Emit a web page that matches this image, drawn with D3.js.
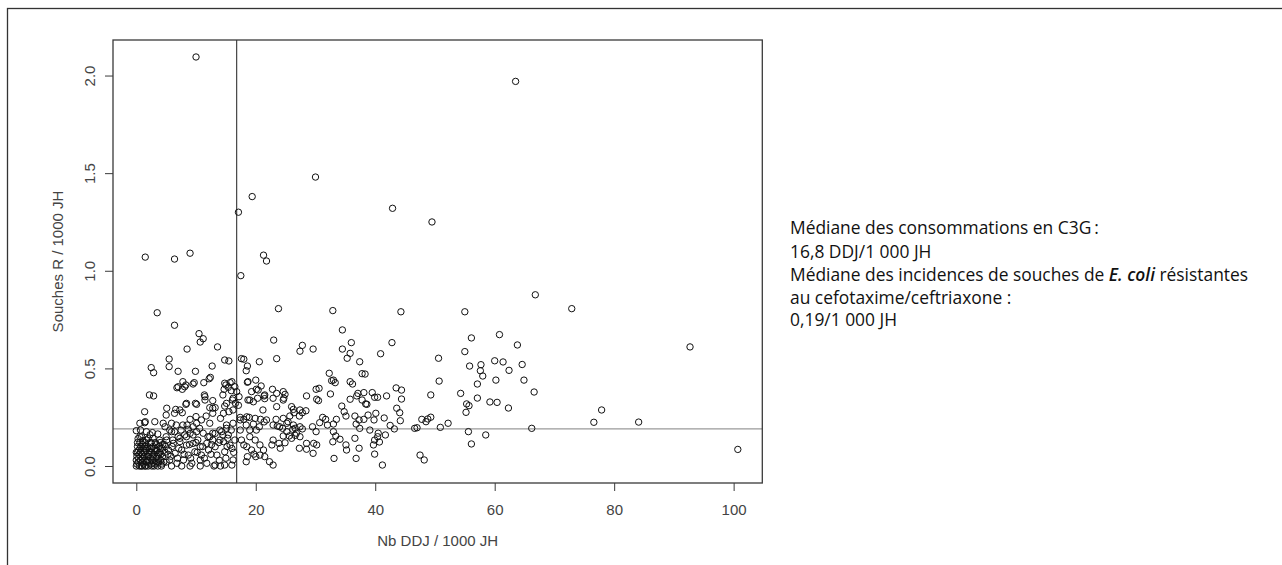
<!DOCTYPE html>
<html>
<head>
<meta charset="utf-8">
<script src="https://cdn.jsdelivr.net/npm/d3@7/dist/d3.min.js"></script>
<style>
  html, body { margin: 0; padding: 0; background: #fff; }
  svg { display: block; }
</style>
</head>
<body>
<svg id="chart" width="1282" height="565"></svg>
<script>
// Consommation de C3G (DDJ / 1000 JH) par établissement
const ddj = [
  10.0, 63.5, 30.0, 19.4, 17.1, 42.9, 49.5, 1.5, 6.4, 9.0, 21.3, 21.8, 17.5, 3.5, 23.8, 32.9, 44.3, 55.0, 66.8, 72.9, 92.7, 100.7,
  77.9, 76.6, 84.1, 66.6, 66.2, 62.3, 59.2, 60.4, 57.1, 57.1, 54.3, 55.3, 55.7, 55.2, 55.6, 56.1, 58.5, 50.9, 52.2, 49.3, 49.3, 48.5,
  47.8, 48.8, 48.2, 47.5, 50.7, 60.2, 64.9, 60.8, 56.1, 42.8, 40.9, 55.0, 50.6, 55.8, 57.7, 57.6, 58.0, 60.0, 61.4, 43.5, 44.4, 44.4,
  41.9, 40.4, 39.9, 39.5, 38.3, 38.6, 43.6, 44.1, 44.2, 40.1, 38.8, 41.5, 39.8, 42.5, 43.2, 39.1, 40.5, 41.7, 40.4, 39.9, 40.7, 39.7,
  39.9, 41.2, 46.6, 47.0, 63.8, 64.6, 62.4,
  34.5, 23.0, 27.8, 27.4, 29.6, 36.0, 34.5, 35.8, 35.3, 37.4, 37.8, 18.0, 20.6, 23.5, 18.6, 18.4, 32.3, 33.0, 33.3, 35.8, 36.2, 18.6,
  20.0, 20.9, 20.1, 22.8, 24.6, 23.5, 24.7, 19.3, 19.0, 19.6, 21.4, 20.3, 21.5, 22.9, 24.6, 28.5, 30.1, 30.6, 30.2, 30.5, 32.7, 32.5,
  35.8, 37.1, 38.1, 36.9, 37.8, 38.4, 34.4, 34.8, 35.1, 36.6, 37.3, 36.8, 38.1, 37.4, 21.2, 17.4, 18.0, 18.9, 19.9, 20.8, 21.4, 18.4,
  19.6, 20.6, 19.0, 20.1, 23.4, 24.6, 25.7, 26.3, 25.4, 26.3, 27.3, 27.8, 28.4, 23.6, 24.5, 25.2, 26.2, 25.6, 26.8, 27.4, 27.8, 24.6,
  26.0, 26.6, 31.2, 31.7, 30.7, 32.0, 33.0, 33.5, 33.0, 33.4, 34.1, 32.9, 29.5, 30.1, 29.7, 30.2, 28.5, 27.3, 28.5, 29.6, 27.4, 35.1,
  36.6, 37.3, 36.8, 35.2, 33.1, 17.4, 17.6, 18.0, 18.5, 19.3, 19.7, 18.6, 20.0, 20.7, 18.4, 21.5, 22.3, 22.9, 21.3, 20.7, 19.9, 19.0,
  22.9, 23.9, 22.7, 24.1, 24.9, 17.2, 18.7, 20.4, 21.5, 18.7, 17.1, 23.5, 26.0, 26.4, 27.4, 24.9, 21.8, 22.9, 24.0, 25.2, 26.6, 17.4,
  18.5,
  6.4, 10.5, 11.2, 10.7, 8.5, 13.6, 5.5, 5.5, 2.5, 2.9, 7.0, 9.9, 12.7, 14.8, 15.5, 17.6, 7.8, 7.0, 8.1, 9.5, 11.3, 12.4, 2.2, 2.9,
  11.4, 12.8, 14.5, 15.0, 15.7, 16.5, 15.9, 16.2, 16.6, 15.1, 8.4, 9.9, 6.6, 5.1, 7.7, 1.4, 5.0, 6.4, 9.0, 10.0, 10.9, 11.7, 12.8,
  14.1, 12.8, 1.4, 3.1, 4.5, 0.0, 5.9, 6.7, 7.8, 5.6, 6.4, 7.5, 8.7, 9.5, 10.6, 0.7, 1.7, 2.7, 3.6, 2.8, 3.9, 1.7, 0.6, 5.0, 6.1,
  7.3, 8.4, 9.5, 10.3, 11.2, 12.0, 12.8, 14.0, 15.1, 15.9, 14.5, 15.3, 14.0, 12.8, 8.3, 6.8, 7.7, 9.7, 12.2, 14.8, 15.4, 16.0, 14.7,
  16.8, 16.1, 7.3, 8.3, 10.1, 11.5, 11.5, 12.3, 13.2, 14.8, 15.5, 14.6, 16.2, 1.5, 4.8, 8.5, 10.1, 12.3, 15.1, 16.2, 0.6,
  5.9, 7.0, 8.1, 9.0, 10.1, 12.3, 13.2, 14.3, 15.4, 5.1, 6.2, 7.3, 8.4, 9.5, 10.7, 11.8, 13.2, 14.6, 15.7, 16.5, 5.4, 6.5, 7.6, 8.7,
  9.8, 10.9, 12.1, 13.5, 14.8, 16.0, 5.6, 6.8, 7.9, 9.3, 10.7, 11.8, 13.2, 14.8, 16.2, 5.9, 7.6, 9.0, 10.7, 13.0, 14.1, 16.0,
  0.0, 0.3, 0.1, 0.4, 0.2, 0.8, 0.7, 0.9, 0.6, 1.2, 1.1, 1.3, 1.0, 1.6, 1.5, 1.8, 1.7, 1.9, 2.2, 2.1, 2.4, 2.3, 2.6, 2.7, 2.9, 2.8,
  3.1, 3.3, 3.2, 3.6, 3.5, 3.7, 3.9, 4.2, 4.1, 4.4, 4.3, 0.5, 0.2, 1.4, 2.0, 3.0, 0.6, 1.5, 2.5, 3.4, 4.0, 0.3, 2.0, 1.0, 2.5, 1.2,
  0.0, 0.0, 3.8, 4.6, 4.8, 4.7, 0.9, 2.3, 5.0, 5.3, 4.9,
  0.1, 0.4, 0.7, 1.0, 1.3, 1.6, 1.9, 2.2, 2.5, 2.8, 3.1, 3.4, 3.7, 4.0, 4.3, 0.5, 0.8, 1.1, 1.4, 1.7, 2.0, 2.3, 2.6, 2.9, 3.2, 3.5,
  3.8, 4.1, 4.4, 0.2,
  5.8, 6.9, 8.0, 9.1, 10.2, 11.4, 12.5, 13.9, 15.0, 6.0, 7.1, 8.9, 10.0, 11.1, 12.6, 13.8, 15.2, 16.3
];

// Incidence des souches R (pour 1000 JH), même ordre que ddj
const souchesR = [
  2.095, 1.97, 1.48, 1.38, 1.30, 1.32, 1.25, 1.07, 1.06, 1.09, 1.08, 1.05, 0.975, 0.785, 0.806, 0.796, 0.79, 0.79, 0.877, 0.806, 0.61, 0.085,
  0.287, 0.224, 0.225, 0.379, 0.193, 0.297, 0.328, 0.326, 0.348, 0.42, 0.372, 0.318, 0.309, 0.275, 0.176, 0.113, 0.159, 0.198, 0.219, 0.364, 0.25, 0.227,
  0.239, 0.241, 0.031, 0.056, 0.435, 0.44, 0.44, 0.673, 0.656, 0.632, 0.575, 0.586, 0.552, 0.512, 0.519, 0.488, 0.461, 0.539, 0.533, 0.40, 0.389, 0.343,
  0.359, 0.352, 0.352, 0.376, 0.471, 0.316, 0.296, 0.273, 0.232, 0.27, 0.261, 0.246, 0.236, 0.208, 0.19, 0.184, 0.168, 0.159, 0.15, 0.133, 0.123, 0.108,
  0.061, 0.005, 0.193, 0.196, 0.62, 0.52, 0.49,
  0.697, 0.645, 0.618, 0.588, 0.599, 0.632, 0.599, 0.577, 0.552, 0.534, 0.473, 0.547, 0.534, 0.55, 0.512, 0.488, 0.475, 0.44, 0.427, 0.432, 0.42, 0.429,
  0.44, 0.41, 0.393, 0.393, 0.381, 0.372, 0.347, 0.381, 0.338, 0.329, 0.359, 0.347, 0.364, 0.347, 0.338, 0.359, 0.393, 0.398, 0.342, 0.335, 0.437, 0.369,
  0.342, 0.372, 0.376, 0.359, 0.338, 0.318, 0.307, 0.278, 0.256, 0.256, 0.236, 0.215, 0.239, 0.193, 0.287, 0.249, 0.239, 0.249, 0.244, 0.239, 0.226, 0.21,
  0.215, 0.201, 0.184, 0.184, 0.239, 0.244, 0.256, 0.29, 0.227, 0.21, 0.256, 0.273, 0.283, 0.205, 0.193, 0.176, 0.188, 0.154, 0.168, 0.201, 0.19, 0.154,
  0.142, 0.157, 0.249, 0.239, 0.222, 0.21, 0.215, 0.239, 0.176, 0.154, 0.137, 0.124, 0.201, 0.176, 0.116, 0.108, 0.116, 0.091, 0.086, 0.065, 0.15, 0.108,
  0.142, 0.091, 0.039, 0.082, 0.039, 0.184, 0.133, 0.108, 0.099, 0.082, 0.061, 0.048, 0.048, 0.056, 0.022, 0.048, 0.022, 0.005, 0.082, 0.108, 0.133, 0.15,
  0.133, 0.116, 0.108, 0.091, 0.119, 0.355, 0.432, 0.389, 0.345, 0.338, 0.311, 0.304, 0.304, 0.273, 0.287, 0.367, 0.236, 0.21, 0.201, 0.219, 0.193, 0.236,
  0.252,
  0.721, 0.678, 0.652, 0.635, 0.599, 0.61, 0.548, 0.509, 0.504, 0.478, 0.485, 0.485, 0.512, 0.543, 0.538, 0.55, 0.432, 0.406, 0.406, 0.42, 0.427, 0.454, 0.364, 0.359,
  0.364, 0.335, 0.364, 0.415, 0.427, 0.406, 0.386, 0.347, 0.321, 0.321, 0.321, 0.321, 0.29, 0.296, 0.273, 0.278, 0.261, 0.27, 0.239, 0.253, 0.236, 0.256, 0.27,
  0.244, 0.296, 0.222, 0.227, 0.219, 0.181, 0.219, 0.21, 0.21, 0.184, 0.176, 0.184, 0.188, 0.201, 0.193, 0.184, 0.176, 0.171, 0.164, 0.142, 0.133, 0.133, 0.15, 0.15, 0.133,
  0.142, 0.15, 0.159, 0.133, 0.168, 0.15, 0.168, 0.184, 0.193, 0.184, 0.159, 0.142, 0.133, 0.133, 0.415, 0.401, 0.393, 0.427, 0.447, 0.424, 0.403, 0.432, 0.393,
  0.381, 0.338, 0.287, 0.316, 0.316, 0.355, 0.338, 0.299, 0.299, 0.307, 0.278, 0.27, 0.287, 0.227, 0.201, 0.21, 0.219, 0.219, 0.21, 0.219, 0.219,
  0.176, 0.15, 0.159, 0.167, 0.176, 0.15, 0.167, 0.176, 0.159, 0.133, 0.116, 0.125, 0.107, 0.116, 0.099, 0.116, 0.099, 0.125, 0.107, 0.133, 0.082, 0.065, 0.082, 0.056,
  0.073, 0.056, 0.082, 0.056, 0.073, 0.09, 0.031, 0.014, 0.031, 0.014, 0.031, 0.014, 0.005, 0.005, 0.031, 0.0, 0.0, 0.0, 0.0, 0.0, 0.0, 0.005,
  0.0, 0.02, 0.05, 0.08, 0.1, 0.0, 0.03, 0.06, 0.09, 0.01, 0.04, 0.07, 0.11, 0.0, 0.03, 0.05, 0.08, 0.1, 0.02, 0.06, 0.04, 0.09, 0.0, 0.03, 0.06, 0.1,
  0.01, 0.04, 0.08, 0.0, 0.05, 0.02, 0.07, 0.0, 0.03, 0.05, 0.09, 0.0, 0.07, 0.0, 0.0, 0.0, 0.12, 0.12, 0.12, 0.11, 0.12, 0.14, 0.14, 0.0, 0.07, 0.09,
  0.03, 0.07, 0.1, 0.02, 0.07, 0.11, 0.15, 0.16, 0.02, 0.06, 0.1,
  0.01, 0.04, 0.07, 0.02, 0.05, 0.09, 0.03, 0.07, 0.01, 0.05, 0.09, 0.02, 0.06, 0.09, 0.01, 0.06, 0.1, 0.13, 0.1, 0.02, 0.05, 0.12, 0.09, 0.02, 0.12, 0.08,
  0.04, 0.06, 0.11, 0.12,
  0.05, 0.04, 0.06, 0.04, 0.07, 0.04, 0.06, 0.03, 0.04, 0.1, 0.09, 0.11, 0.12, 0.1, 0.11, 0.12, 0.1, 0.07
];

const medianDDJ = 16.8;
const medianR = 0.19;

const xTicks = [0, 20, 40, 60, 80, 100];
const yTicks = [0, 0.5, 1, 1.5, 2];
const yTickLabels = ["0.0", "0.5", "1.0", "1.5", "2.0"];

const xTitle = "Nb DDJ / 1000 JH";
const yTitle = "Souches R / 1000 JH";

const noteLines = [
  [{ t: "Médiane des consommations en C3G\u2009:" }],
  [{ t: "16,8 DDJ/1 000 JH" }],
  [{ t: "Médiane des incidences de souches de " }, { t: "E. coli", it: true }, { t: " résistantes" }],
  [{ t: "au cefotaxime/ceftriaxone :" }],
  [{ t: "0,19/1 000 JH" }]
];

const points = ddj.map((d, i) => ({ x: d, y: souchesR[i] }));

const svg = d3.select("#chart");
const plot = { left: 113, right: 762.3, top: 40, bottom: 483 };

const x = d3.scaleLinear().domain([-3.9, 104.8]).range([plot.left, plot.right]);
const y = d3.scaleLinear().domain([-0.087, 2.182]).range([plot.bottom, plot.top]);

const axisFont = "'Liberation Sans', Arial, sans-serif";
const ink = "#3a3a3a";

// outer frame of the figure
svg.append("rect")
  .attr("x", 7.5).attr("y", 8.5)
  .attr("width", 1400).attr("height", 700)
  .attr("fill", "none").attr("stroke", "#333").attr("stroke-width", 1.3);

// x axis
const gx = svg.append("g")
  .attr("transform", `translate(0,${plot.bottom})`)
  .call(d3.axisBottom(x).tickValues(xTicks).tickFormat(d3.format("d")).tickSize(8).tickPadding(13));
gx.select(".domain").remove();
gx.selectAll("line").attr("stroke", ink);
gx.selectAll("text").attr("font-family", axisFont).attr("font-size", 15).attr("fill", "#444");

// y axis with labels turned like the axis title
const gy = svg.append("g")
  .attr("transform", `translate(${plot.left},0)`)
  .call(d3.axisLeft(y).tickValues(yTicks).tickFormat((d, i) => yTickLabels[i]).tickSize(8));
gy.select(".domain").remove();
gy.selectAll("line").attr("stroke", ink);
gy.selectAll("text")
  .attr("font-family", axisFont).attr("font-size", 15).attr("fill", "#444")
  .attr("transform", "rotate(-90)")
  .attr("x", 0).attr("y", -23).attr("dy", "0.35em")
  .attr("text-anchor", "middle");

// axis titles
svg.append("text")
  .attr("x", (plot.left + plot.right) / 2).attr("y", 546)
  .attr("text-anchor", "middle")
  .attr("font-family", axisFont).attr("font-size", 15).attr("fill", "#444")
  .text(xTitle);

svg.append("text")
  .attr("transform", `translate(58,${(plot.top + plot.bottom) / 2}) rotate(-90)`)
  .attr("dy", "0.35em")
  .attr("text-anchor", "middle")
  .attr("font-family", axisFont).attr("font-size", 15).attr("fill", "#444")
  .text(yTitle);

// median lines
svg.append("line")
  .attr("x1", plot.left).attr("x2", plot.right)
  .attr("y1", y(medianR)).attr("y2", y(medianR))
  .attr("stroke", "#9a9a9a").attr("stroke-width", 1.3);

svg.append("line")
  .attr("x1", x(medianDDJ)).attr("x2", x(medianDDJ))
  .attr("y1", plot.top).attr("y2", plot.bottom)
  .attr("stroke", "#444").attr("stroke-width", 1.2);

// scatter points, open circles
svg.append("g")
  .selectAll("circle")
  .data(points)
  .join("circle")
  .attr("cx", d => x(d.x))
  .attr("cy", d => y(d.y))
  .attr("r", 3.2)
  .attr("fill", "none")
  .attr("stroke", "#111")
  .attr("stroke-width", 1);

// plot box
svg.append("rect")
  .attr("x", plot.left).attr("y", plot.top)
  .attr("width", plot.right - plot.left).attr("height", plot.bottom - plot.top)
  .attr("fill", "none").attr("stroke", ink).attr("stroke-width", 1.3);

// side note with the two medians
const note = svg.append("text")
  .attr("font-family", "'Open Sans', 'Noto Sans', sans-serif")
  .attr("font-size", 17.4)
  .attr("fill", "#111");

const lineY = [234, 258, 281, 303.5, 326];
noteLines.forEach((parts, i) => {
  parts.forEach((p, j) => {
    const ts = note.append("tspan").text(p.t);
    if (j === 0) ts.attr("x", 790).attr("y", lineY[i]);
    if (p.it) ts.attr("font-style", "italic").attr("font-weight", 600);
  });
});
</script>
</body>
</html>
